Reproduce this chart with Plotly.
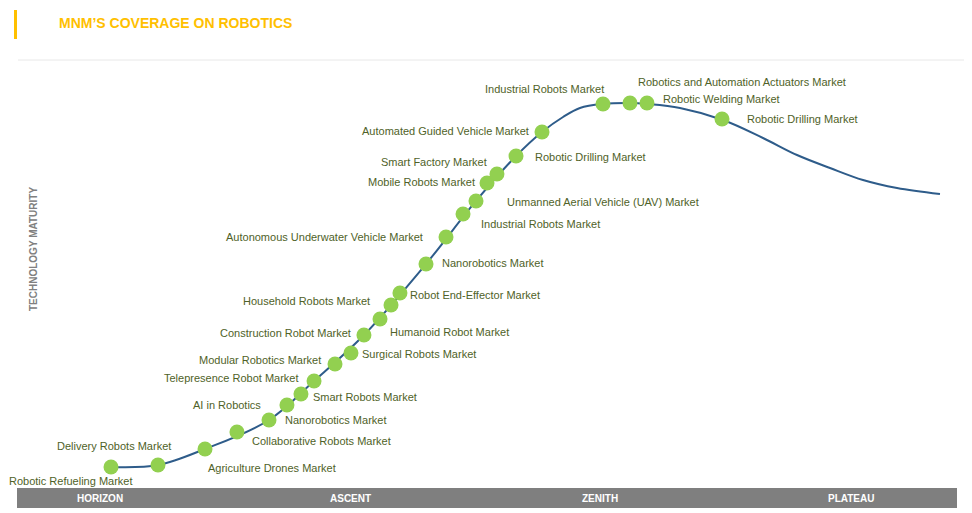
"""Hype-cycle style coverage chart: robotics markets placed along a maturity curve."""
import plotly.graph_objects as go

# the page body keeps an 8px margin, so the figure is 8px smaller than the window
PAGE_MARGIN = 8
W, H = 972 - PAGE_MARGIN, 513 - PAGE_MARGIN
FONT = "Liberation Sans, Arial, sans-serif"
TITLE_COLOR = "#FFC000"
CURVE_COLOR = "#2E5C8A"
DOT_COLOR = "#92D050"
LABEL_COLOR = "#4F6228"
BAR_COLOR = "#7F7F7F"

# maturity curve (x = position along the phases 0-100, y = maturity 0-100)
curve_x = [10.0, 15.0, 20.0, 26.81, 31.6, 36.91, 43.51, 48.83, 53.09, 55.85, 58.09,
           59.89, 62.34, 65.21, 67.02, 70.53, 75.11, 79.36, 82.98, 86.49, 90.0, 93.62, 98.19]
curve_y = [4.91, 5.37, 9.11, 15.89, 25.0, 35.75, 52.34, 67.06, 77.57, 83.18, 86.68,
           88.79, 89.72, 89.95, 89.72, 88.79, 85.98, 81.78, 77.80, 74.77, 71.96, 70.09, 68.69]

markets = [
    "Robotic Refueling Market", "Delivery Robots Market", "Agriculture Drones Market",
    "Collaborative Robots Market", "Nanorobotics Market", "AI in Robotics",
    "Smart Robots Market", "Telepresence Robot Market", "Modular Robotics Market",
    "Surgical Robots Market", "Construction Robot Market", "Humanoid Robot Market",
    "Household Robots Market", "Robot End-Effector Market", "Nanorobotics Market",
    "Autonomous Underwater Vehicle Market", "Industrial Robots Market",
    "Unmanned Aerial Vehicle (UAV) Market", "Mobile Robots Market", "Smart Factory Market",
    "Robotic Drilling Market", "Automated Guided Vehicle Market", "Industrial Robots Market",
    "Robotics and Automation Actuators Market", "Robotic Welding Market",
    "Robotic Drilling Market",
]
market_x = [10.0, 15.0, 20.0, 23.4, 26.81, 28.72, 30.21, 31.6, 33.83, 35.53, 36.91, 38.62,
            39.79, 40.74, 43.51, 45.64, 47.45, 48.83, 50.0, 51.06, 53.09, 55.85, 62.34,
            65.21, 67.02, 75.0]
market_y = [4.91, 5.37, 9.11, 13.08, 15.89, 19.39, 21.96, 25.0, 28.97, 31.54, 35.75, 39.49,
            42.76, 45.56, 52.34, 58.64, 64.02, 67.06, 71.26, 73.36, 77.57, 83.18, 89.72,
            89.95, 89.95, 86.21]

phases = ["HORIZON", "ASCENT", "ZENITH", "PLATEAU"]
phase_x = [8.83, 35.43, 62.02, 88.72]

# label placement: (anchor, x shift px, y shift px)
label_pos = [
    ("center", -40, -14), ("center", -44, 19), ("left", 1, -19), ("left", 13, -9),
    ("left", 14, 0), ("right", -24, 0), ("left", 10, -3), ("right", -13, 3),
    ("right", -12, 4), ("left", 9, -1), ("right", -11, 2), ("left", 8, -13),
    ("right", -19, 4), ("left", 8, -2), ("left", 14, 1), ("right", -21, 0),
    ("left", 16, -10), ("left", 29, -1), ("right", -10, 1), ("right", -8, 12),
    ("left", 17, -1), ("right", -11, 1), ("right", 3, 15), ("left", 6, 21),
    ("left", 14, 4), ("left", 23, 0),
]


def px(x):
    return (x - PAGE_MARGIN) / W


def py(y):
    return 1 - (y - PAGE_MARGIN) / H


fig = go.Figure()
fig.add_trace(go.Scatter(
    x=curve_x, y=curve_y, mode="lines",
    line=dict(color=CURVE_COLOR, width=2, shape="spline", smoothing=1.0),
    hoverinfo="skip", showlegend=False,
))
fig.add_trace(go.Scatter(
    x=market_x, y=market_y, mode="markers", text=markets,
    marker=dict(color=DOT_COLOR, size=15, line=dict(width=0)),
    hovertemplate="%{text}<extra></extra>", showlegend=False,
))

for name, x, y, (anchor, dx, dy) in zip(markets, market_x, market_y, label_pos):
    fig.add_annotation(
        x=x, y=y, text=name, showarrow=False, xanchor=anchor, yanchor="middle",
        xshift=dx, yshift=dy, font=dict(family=FONT, size=11, color=LABEL_COLOR),
    )

# phase bar along the bottom
fig.add_shape(type="rect", x0=0, x1=100, y0=-4.67, y1=0, fillcolor=BAR_COLOR,
              line=dict(width=0), layer="below")
for name, x in zip(phases, phase_x):
    fig.add_annotation(
        x=x, y=-2.34, text=f"<b>{name}</b>", showarrow=False,
        font=dict(family=FONT, size=10, color="white"),
    )

# header decorations
fig.add_shape(type="rect", xref="paper", yref="paper", x0=px(14), x1=px(17),
              y0=py(39), y1=py(10), fillcolor=TITLE_COLOR, line=dict(width=0))
fig.add_shape(type="line", xref="paper", yref="paper", x0=px(18), x1=1,
              y0=py(60), y1=py(60), line=dict(color="#E8E8E8", width=1))
fig.add_annotation(
    xref="paper", yref="paper", x=px(57), y=py(23), xanchor="left", yanchor="middle",
    text="<b>MNM’S COVERAGE ON ROBOTICS</b>", showarrow=False,
    font=dict(family=FONT, size=14, color=TITLE_COLOR),
)
fig.add_annotation(
    xref="paper", yref="paper", x=px(33), y=py(249), textangle=-90,
    xanchor="center", yanchor="middle",
    text="<b>TECHNOLOGY MATURITY</b>", showarrow=False,
    font=dict(family=FONT, size=10, color="#808080"),
)

fig.update_xaxes(visible=False, range=[-0.957, 101.596], fixedrange=True)
fig.update_yaxes(visible=False, range=[-5.841, 112.15], fixedrange=True)
fig.update_layout(
    width=W, height=H, margin=dict(l=0, r=0, t=0, b=0),
    plot_bgcolor="white", paper_bgcolor="white",
)
fig.write_html("out.html")
